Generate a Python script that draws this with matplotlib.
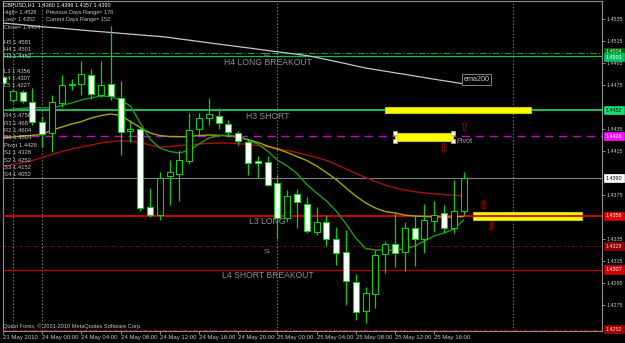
import matplotlib
matplotlib.use('Agg')
import matplotlib.pyplot as plt
from matplotlib.patches import Rectangle

# ---------------- data ----------------
bars = list(range(-4, 44))  # hours from 24 May 00:00
opens = [1.4482, 1.4461, 1.4468, 1.4459, 1.4441, 1.4431, 1.4458, 1.4476, 1.4476, 1.4484,
         1.4466, 1.4476, 1.4463, 1.4433, 1.4435, 1.4364, 1.4357, 1.4392, 1.4394, 1.4406,
         1.4435, 1.4445, 1.4447, 1.4439, 1.4431, 1.4423, 1.4406, 1.4405, 1.4386, 1.4354,
         1.4376, 1.4367, 1.4341, 1.4350, 1.4335, 1.4323, 1.4296, 1.4269, 1.4285, 1.4321,
         1.4330, 1.4323, 1.4345, 1.4335, 1.4351, 1.4358, 1.4345, 1.4360]
highs = [1.4484, 1.4471, 1.4470, 1.4472, 1.4447, 1.4466, 1.4484, 1.4480, 1.4497, 1.4489,
         1.4497, 1.4528, 1.4478, 1.4443, 1.4437, 1.4381, 1.4396, 1.4407, 1.4416, 1.4449,
         1.4449, 1.4463, 1.4454, 1.4443, 1.4433, 1.4425, 1.4410, 1.4410, 1.4393, 1.4379,
         1.4380, 1.4373, 1.4364, 1.4357, 1.4346, 1.4343, 1.4303, 1.4291, 1.4325, 1.4333,
         1.4359, 1.4350, 1.4357, 1.4367, 1.4369, 1.4366, 1.4388, 1.4396]
lows = [1.4475, 1.4459, 1.4458, 1.4438, 1.4418, 1.4414, 1.4455, 1.4470, 1.4466, 1.4462,
        1.4464, 1.4461, 1.4411, 1.4423, 1.4360, 1.4355, 1.4352, 1.4366, 1.4369, 1.4403,
        1.4429, 1.4438, 1.4435, 1.4428, 1.4420, 1.4393, 1.4390, 1.4383, 1.4335, 1.4350,
        1.4345, 1.4340, 1.4338, 1.4328, 1.4311, 1.4275, 1.4261, 1.4258, 1.4272, 1.4304,
        1.4309, 1.4306, 1.4310, 1.4322, 1.4341, 1.4340, 1.4340, 1.4357]
closes = [1.4477, 1.4469, 1.4460, 1.4441, 1.4430, 1.4459, 1.4475, 1.4475, 1.4485, 1.4467,
          1.4475, 1.4465, 1.4432, 1.4435, 1.4363, 1.4357, 1.4390, 1.4396, 1.4407, 1.4434,
          1.4445, 1.4448, 1.4440, 1.4432, 1.4424, 1.4404, 1.4404, 1.4384, 1.4354, 1.4374,
          1.4368, 1.4342, 1.4350, 1.4335, 1.4322, 1.4297, 1.4268, 1.4286, 1.4320, 1.4330,
          1.4322, 1.4345, 1.4335, 1.4352, 1.4357, 1.4345, 1.4360, 1.4390]

ema200 = [1.45311, 1.45303, 1.45295, 1.45285, 1.45277, 1.45270, 1.45263, 1.45255, 1.45247, 1.45239,
          1.45232, 1.45225, 1.45217, 1.45210, 1.45203, 1.45195, 1.45189, 1.45179, 1.45166, 1.45155,
          1.45143, 1.45131, 1.45119, 1.45108, 1.45096, 1.45085, 1.45073, 1.45061, 1.45049, 1.45038,
          1.45026, 1.45015, 1.44998, 1.44979, 1.44960, 1.44941, 1.44921, 1.44902, 1.44887, 1.44873,
          1.44858, 1.44844, 1.44829, 1.44815, 1.44800, 1.44786, 1.44772, 1.44758]
ma_red = [1.44006, 1.44025, 1.44043, 1.44061, 1.44088, 1.44115, 1.44143, 1.44165, 1.44184, 1.44202,
          1.44220, 1.44234, 1.44240, 1.44238, 1.44225, 1.44202, 1.44184, 1.44188, 1.44197, 1.44204,
          1.44211, 1.44217, 1.44220, 1.44220, 1.44215, 1.44206, 1.44197, 1.44184, 1.44170, 1.44152,
          1.44134, 1.44111, 1.44088, 1.44061, 1.44025, 1.43984, 1.43943, 1.43906, 1.43870, 1.43838,
          1.43811, 1.43793, 1.43777, 1.43767, 1.43758, 1.43751, 1.43745, 1.43740]
ma_yellow = [1.44265, 1.44275, 1.44284, 1.44290, 1.44297, 1.44338, 1.44365, 1.44393, 1.44415, 1.44447,
             1.44470, 1.44484, 1.44470, 1.44415, 1.44361, 1.44311, 1.44288, 1.44279, 1.44277, 1.44279,
             1.44288, 1.44293, 1.44290, 1.44284, 1.44275, 1.44252, 1.44225, 1.44193, 1.44165, 1.44134,
             1.44097, 1.44061, 1.44011, 1.43952, 1.43888, 1.43811, 1.43738, 1.43675, 1.43629, 1.43597,
             1.43584, 1.43565, 1.43556, 1.43552, 1.43549, 1.43547, 1.43547, 1.43552]
ma_green = [1.44520, 1.44529, 1.44536, 1.44543, 1.44540, 1.44538, 1.44561, 1.44584, 1.44611, 1.44631,
            1.44647, 1.44643, 1.44611, 1.44556, 1.44402, 1.44256, 1.44175, 1.44143, 1.44129, 1.44156,
            1.44211, 1.44265, 1.44288, 1.44291, 1.44279, 1.44243, 1.44211, 1.44147, 1.44065, 1.44011,
            1.43943, 1.43843, 1.43765, 1.43693, 1.43602, 1.43484, 1.43356, 1.43261, 1.43247, 1.43247,
            1.43247, 1.43256, 1.43284, 1.43329, 1.43375, 1.43402, 1.43438, 1.43520]

# horizontal levels
level_r1 = 1.4504
level_h4 = 1.4501
level_h3 = 1.4452
level_pivot = 1.4428
level_bid = 1.4390
level_l3 = 1.4356
level_s1 = 1.4328
level_l4 = 1.4307
level_s2 = 1.4252

separators = [-3, 0, 24, 48]

price_ticks = [1.4535, 1.4515, 1.4495, 1.4475, 1.4435, 1.4415, 1.4375, 1.4335, 1.4315, 1.4295, 1.4275]
time_ticks = [-4, 0, 4, 8, 12, 16, 20, 24, 28, 32, 36, 40]
time_labels = ['21 May 2010', '24 May 00:00', '24 May 04:00', '24 May 08:00', '24 May 12:00',
               '24 May 16:00', '24 May 20:00', '25 May 00:00', '25 May 04:00', '25 May 08:00',
               '25 May 12:00', '25 May 16:00']

# yellow rectangles (bar start, bar end, price low, price high)
rect_x0 = [35.0, 36.0, 44.0]
rect_x1 = [49.9, 41.9, 55.05]
rect_lo = [1.44496, 1.44241, 1.43520]
rect_hi = [1.44550, 1.44314, 1.43590]

arrow_x = [43.05, 40.88, 45.0, 45.87]
arrow_y = [1.44359, 1.44156, 1.43656, 1.43444]
arrow_sym = ['⇧', '⇩', '⇧', '⇩']

info_lines = ['GBPUSD,H1  1.4360 1.4396 1.4357 1.4390', 'High= 1.4528', 'Low= 1.4352', 'Close= 1.4404']
range_lines = ['Previous Days Range= 176', 'Current Days Range= 152']
cam_labels = ['H5 1.4581', 'H4 1.4501', 'H3 1.4452', 'L3 1.4356', 'L4 1.4307', 'L5 1.4227']
piv_labels = ['R4 1.4756', 'R3 1.468', 'R2 1.4604', 'R1 1.4504', 'Pivot 1.4428',
              'S1 1.4328', 'S2 1.4252', 'S3 1.4152', 'S4 1.4052']

# ---------------- figure ----------------
W, H = 625, 343
fig = plt.figure(figsize=(W / 100, H / 100), dpi=100, facecolor='black')
ax = fig.add_axes([3 / W, 12 / H, 599 / W, 330 / H], facecolor='black')
ax.set_xlim(-3.945, 57.12)
ax.set_ylim(1.42511, 1.45511)
for s in ax.spines.values():
    s.set_color('#909090')
    s.set_linewidth(0.8)

FONT = 'Liberation Sans'
SMALL = 4.2
AXF = 3.9
LBLC = '#c8c8c8'

# day separators
for b in separators:
    ax.axvline(b, color='#909090', ls=(0, (1, 2)), lw=0.8, zorder=1)

# horizontal levels
ax.axhline(level_r1, color='#14a014', ls=(0, (6, 2, 1, 2)), lw=0.8, zorder=2)
ax.axhline(level_h4, color='#00c060', lw=0.9, zorder=2)
ax.axhline(level_h3, color='#20f080', lw=1.1, zorder=2)
ax.axhline(level_pivot, color='#d000d0', ls=(0, (6, 4)), lw=1.0, zorder=2)
ax.axhline(level_bid, color='#808080', lw=0.8, zorder=2)
ax.axhline(level_s1, color='#a00000', ls=(0, (3, 2, 1, 2)), lw=0.7, zorder=2)
ax.axhline(level_l4, color='#c00000', lw=0.9, zorder=2)
ax.axhline(level_s2, color='#b00000', ls=(0, (3, 2, 1, 2)), lw=0.9, zorder=2)

# yellow rectangles
for k in range(len(rect_x0)):
    ax.add_patch(Rectangle((rect_x0[k], rect_lo[k]), rect_x1[k] - rect_x0[k], rect_hi[k] - rect_lo[k],
                           fc='#ffff00', ec='#c8c800', lw=0.8, zorder=3))
ax.plot([rect_x0[1], rect_x1[1], rect_x0[1], rect_x1[1]],
        [rect_lo[1], rect_lo[1], rect_hi[1], rect_hi[1]], 's', ms=2.2, mfc='white', mec='#c8c800',
        mew=0.4, zorder=4, ls='none')

ax.axhline(level_l3, color='#e00000', lw=1.3, zorder=4)

# moving averages
ax.plot(bars, ema200, color='#c8c8c8', lw=0.9, zorder=5)
ax.plot(bars, ma_red, color='#a81010', lw=1.0, zorder=5)
ax.plot(bars, ma_yellow, color='#a8a800', lw=1.0, zorder=5)
ax.plot(bars, ma_green, color='#1e9a1e', lw=1.0, zorder=5)

# candles
CAND = '#10d010'
bw = 0.62
ax.vlines(bars, lows, highs, color=CAND, lw=0.9, zorder=6)
for b, o, c in zip(bars, opens, closes):
    lo, hi = min(o, c), max(o, c)
    if hi - lo < 0.00005:
        hi = lo + 0.00005
    ax.add_patch(Rectangle((b - bw / 2, lo), bw, hi - lo,
                           fc='black' if c >= o else 'white', ec=CAND, lw=0.8, zorder=7))

# arrows
for x, y, s in zip(arrow_x, arrow_y, arrow_sym):
    ax.text(x, y, s, color='#c00000', fontsize=9.5, ha='center', va='center',
            family='DejaVu Sans', zorder=8)

# level annotations
lab_bar = 23
def lvl_text(price, txt, size=6.2, dy=-6):
    ax.annotate(txt, xy=(lab_bar, price), xytext=(0, dy), textcoords='offset pixels',
                ha='center', va='center', color='#909090', fontsize=size, family=FONT, zorder=9)
lvl_text(level_h4, 'H4 LONG BREAKOUT')
lvl_text(level_h3, 'H3 SHORT')
lvl_text(level_l3, 'L3 LONG')
lvl_text(level_l4, 'L4 SHORT BREAKOUT')
lvl_text(level_r1, 'R1', size=4.2, dy=-3)
lvl_text(level_s1, 'S1', size=4.2, dy=-5)
ax.annotate('Pivot', xy=(rect_x1[1], level_pivot), xytext=(4, -5), textcoords='offset pixels',
            ha='left', va='center', color='#a0a0a0', fontsize=5.2, family=FONT, zorder=9)
ax.annotate('ema200', xy=(bars[-1], ema200[-2]), xytext=(0, 3), textcoords='offset pixels',
            ha='left', va='center', color='#c8c8c8', fontsize=5.2, family=FONT, zorder=9,
            bbox=dict(boxstyle='square,pad=0.25', fc='black', ec='#808080', lw=0.7))

# axes ticks
ax.yaxis.tick_right()
ax.set_yticks(price_ticks, [f'{p:.4f}' for p in price_ticks])
ax.tick_params(axis='y', length=2, width=0.7, pad=1.0, labelsize=AXF, colors='#909090',
               labelcolor=LBLC)
ax.set_xticks(time_ticks, time_labels)
ax.tick_params(axis='x', length=2, width=0.7, pad=0.8, labelsize=4.3, colors='#909090',
               labelcolor=LBLC)
for t in ax.get_xticklabels():
    t.set_horizontalalignment('left')
    t.set_family(FONT)
for t in ax.get_yticklabels():
    t.set_family(FONT)

# right-side price boxes
boxes = [(level_r1, '#006a10', '#d0ffd0', 1), (level_h4, '#00c060', 'white', -1),
         (level_h3, '#10e070', 'black', 0), (level_pivot, '#ff10ff', 'white', 0),
         (level_bid, 'white', 'black', 0), (level_l3, '#e00000', 'white', 0),
         (level_s1, '#900000', '#ffd0d0', 0), (level_l4, '#d00000', 'white', 0),
         (level_s2, '#a00000', '#ffd0d0', 1)]
for p, fc, tc, dy in boxes:
    ax.annotate(f'{p:.4f}', xy=(1.0, p), xycoords=('axes fraction', 'data'), xytext=(4, dy),
                textcoords='offset pixels', ha='left', va='center', fontsize=AXF, family=FONT,
                color=tc, annotation_clip=False,
                bbox=dict(boxstyle='square,pad=0.28', fc=fc, ec=fc, lw=0.5))

# left info texts (pixel positions from top-left)
def ftext(x, y, s, color=LBLC, size=SMALL):
    fig.text(x / W, 1 - y / H, s, color=color, fontsize=size, family=FONT, ha='left', va='center')

ftext(3, 5, info_lines[0], color='white', size=4.0)
ftext(3, 12.7, info_lines[1], size=4.0)
ftext(46, 12.7, range_lines[0], size=4.0)
ftext(3, 19.5, info_lines[2], size=4.0)
ftext(46, 19.5, range_lines[1], size=4.0)
ftext(4, 27.7, info_lines[3], size=4.0)
for k, s in enumerate(cam_labels):
    ftext(4, [42.7, 49.7, 57, 71.7, 78.7, 85.7][k], s)
for k, s in enumerate(piv_labels):
    ftext(4, 115.7 + k * 7.4, s)
ftext(3, 326, 'Quest Forex, © 2001-2010 MetaQuotes Software Corp.', size=4.1)

fig.savefig('out.png', dpi=100, facecolor='black')
